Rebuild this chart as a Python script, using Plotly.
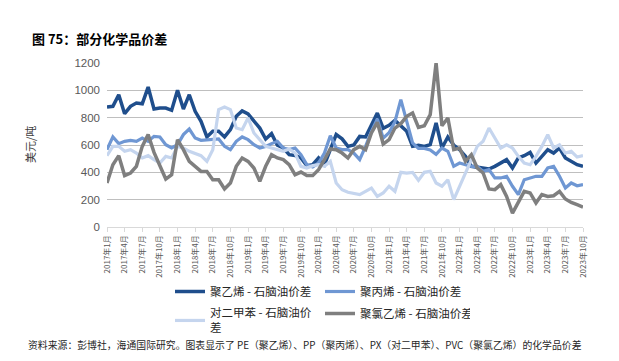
import plotly.graph_objects as go

# Monthly categories 2017-01 .. 2023-10
years = [2017, 2018, 2019, 2020, 2021, 2022, 2023]
months = [f"{y}年{m}月" for y in years for m in range(1, 13)][:82]
tick_labels = months[::3]

pe = [878, 883, 968, 829, 883, 907, 902, 1024, 863, 870, 870, 854, 1000, 863, 968, 846,
      773, 659, 700, 700, 659, 712, 810, 849, 827, 780, 724, 644, 683, 598, 578, 529,
      524, 505, 449, 456, 505, 456, 560, 676, 645, 590, 600, 663, 659, 749, 834, 722,
      744, 780, 744, 700, 590, 598, 590, 603, 761, 578, 659, 600, 566, 517, 444, 439,
      432, 424, 444, 468, 493, 432, 505, 522, 546, 468, 517, 566, 541, 578, 505, 480,
      456, 444]
pp = [566, 659, 610, 627, 634, 627, 651, 627, 663, 659, 602, 578, 602, 676, 717, 651,
      634, 639, 644, 644, 590, 566, 627, 659, 639, 602, 578, 590, 610, 627, 578, 566,
      578, 529, 456, 439, 468, 541, 668, 578, 566, 566, 541, 493, 590, 700, 790, 650,
      690, 770, 932, 770, 615, 575, 575, 563, 532, 578, 554, 444, 468, 456, 444, 444,
      407, 420, 359, 359, 371, 298, 237, 346, 359, 371, 371, 432, 444, 371, 285, 322,
      302, 310]
px = [522, 590, 590, 554, 566, 541, 505, 522, 493, 468, 517, 505, 590, 578, 554, 541,
      522, 480, 566, 859, 878, 859, 724, 712, 798, 688, 639, 590, 578, 566, 554, 571,
      541, 444, 432, 449, 456, 444, 480, 322, 273, 254, 244, 237, 261, 285, 224, 249,
      298, 261, 400, 395, 400, 341, 400, 407, 322, 298, 346, 200, 298, 395, 493, 590,
      627, 724, 651, 578, 602, 578, 517, 468, 456, 517, 590, 676, 578, 602, 541, 554,
      512, 522]
pvc = [322, 456, 522, 376, 395, 444, 590, 676, 546, 444, 351, 383, 639, 566, 480, 444,
       407, 407, 346, 346, 278, 322, 444, 505, 480, 432, 334, 444, 529, 505, 493, 456,
       383, 402, 376, 376, 420, 493, 571, 566, 541, 505, 566, 590, 566, 688, 766, 607,
       639, 724, 756, 810, 834, 729, 741, 822, 1200, 741, 798, 566, 578, 480, 529, 432,
       395, 278, 273, 310, 224, 102, 188, 261, 249, 176, 237, 224, 229, 261, 205, 180,
       163, 146]

series = [
    ("聚乙烯 - 石脑油价差", pe, "#1F4E8C", 3.5, "legend"),
    ("聚丙烯 - 石脑油价差", pp, "#6F97D3", 3.2, "legend"),
    ("对二甲苯 - 石脑油价<br>差", px, "#C5D5EE", 3.2, "legend2"),
    ("聚氯乙烯 - 石脑油价差", pvc, "#7F7F7F", 3.5, "legend2"),
]

CJK = "Noto Sans CJK SC"
fig = go.Figure()
for name, vals, color, w, lg in series:
    fig.add_trace(go.Scatter(x=months, y=vals, name=name, mode="lines",
                             line=dict(color=color, width=w), legend=lg))

# page body has an 8px margin; work in screenshot pixel coordinates
OFF = 8
W, H = 619 - OFF, 361 - OFF
L = 107 - OFF
T = 63 - OFF
R = W - (583 - OFF)
B = H - (227 - OFF)
pw = W - L - R
ph = H - T - B

def px_x(x):
    return (x - OFF - L) / pw

def px_y(y):
    return (H - B - (y - OFF)) / ph

legend_common = dict(orientation="h", xanchor="left", yanchor="top",
                     font=dict(family=CJK, size=11.5, color="#262626"),
                     entrywidth=105, itemwidth=30, bgcolor="rgba(0,0,0,0)",
                     tracegroupgap=0)

fig.update_layout(
    width=W, height=H,
    margin=dict(l=L, r=R, t=T, b=B),
    paper_bgcolor="white", plot_bgcolor="white",
    showlegend=True,
    legend=dict(x=px_x(170), y=px_y(277), **legend_common),
    legend2=dict(x=px_x(170), y=px_y(299), **legend_common),
    xaxis=dict(type="category", categoryorder="array", categoryarray=months,
               range=[0, 81], tickmode="array", tickvals=tick_labels, ticktext=tick_labels,
               tickangle=-90, tickfont=dict(family=CJK, size=8, color="#595959"),
               showgrid=False, showline=True, linecolor="#D9D9D9", linewidth=1,
               ticks="outside", ticklen=4, tickcolor="#D9D9D9", zeroline=False),
    yaxis=dict(range=[0, 1200], tickvals=[0, 200, 400, 600, 800, 1000, 1200],
               tickfont=dict(family="Liberation Sans", size=11.5, color="#595959"),
               showgrid=True, gridcolor="#BFBFBF", gridwidth=1.2, zeroline=False,
               showline=False, ticks="", ticklabelstandoff=6),
    annotations=[
        dict(text="<b>图 75：部分化学品价差</b>", xref="paper", yref="paper",
             x=px_x(30), y=px_y(38), xanchor="left", yanchor="middle", showarrow=False,
             font=dict(family=CJK, size=13, color="#000000")),
        dict(text="美元/吨", xref="paper", yref="paper", x=px_x(30), y=px_y(145),
             xanchor="center", yanchor="middle", textangle=-90, showarrow=False,
             font=dict(family=CJK, size=11, color="#404040")),
        dict(text="资料来源：彭博社，海通国际研究。图表显示了 PE（聚乙烯）、PP（聚丙烯）、PX（对二甲苯）、PVC（聚氯乙烯）的化学品价差",
             xref="paper", yref="paper", x=px_x(26), y=px_y(345), xanchor="left",
             yanchor="middle", showarrow=False,
             font=dict(family=CJK, size=9.85, color="#262626")),
    ],
)

fig.write_html("out.html")
